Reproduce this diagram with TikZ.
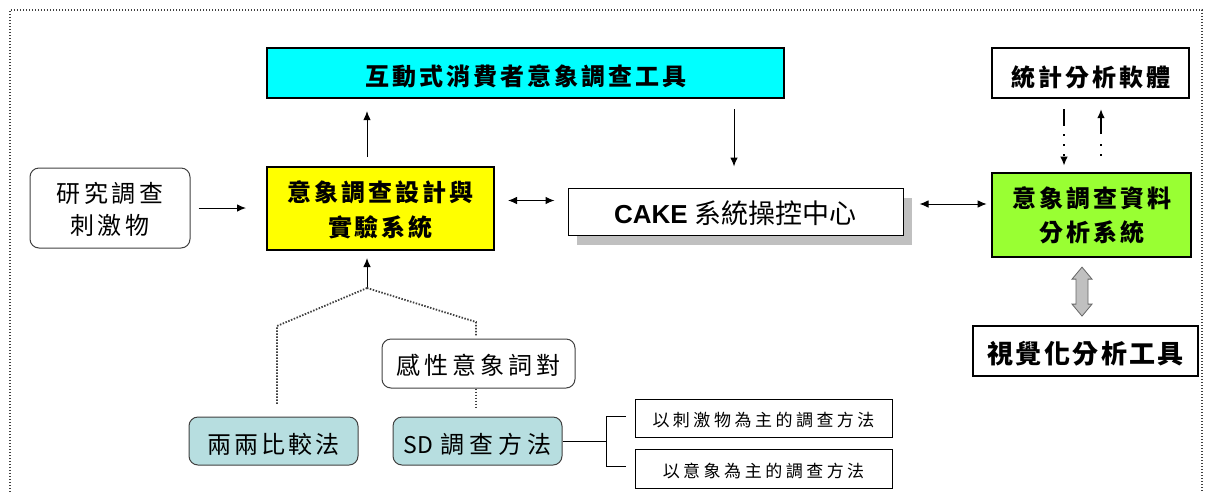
\documentclass[tikz,border=0pt]{standalone}
\usepackage{fontspec}
\setmainfont{Liberation Sans}
\newfontfamily\cjk{Noto Sans CJK TC}
\usetikzlibrary{arrows.meta,calc,shadows}
\makeatletter
\newcommand\spc[2]{\def\spc@sep{\hspace{#1}}\spc@first#2\relax}
\def\spc@first#1{#1\spc@go}
\def\spc@go#1{\ifx#1\relax\else\spc@sep#1\expandafter\spc@go\fi}
\makeatother
% shift content down visually without changing its size
\newcommand\dn[2]{\raisebox{-#1}[\height][\depth]{#2}}
\newcommand\twolines[2]{\begin{tabular}{@{}c@{}}#1\\#2\end{tabular}}
\definecolor{cyanc}{RGB}{0,255,255}
\definecolor{yellowc}{RGB}{255,255,0}
\definecolor{greenc}{RGB}{153,255,51}
\definecolor{tealc}{RGB}{183,222,224}
\definecolor{shadowc}{RGB}{192,192,192}
\begin{document}
\begin{tikzpicture}[x=1pt,y=-1pt,
  tip/.tip={Latex[length=9pt,width=7.5pt]},
  arr/.style={-tip, line width=1pt},
  darr/.style={tip-tip, line width=1pt},
  dotline/.style={line width=1.8pt, black!75, dash pattern=on 1.5pt off 1.5pt},
  sq/.style={draw, line width=2.2pt, inner sep=0pt, align=center,
    font=\cjk\bfseries\fontsize{24}{34}\selectfont},
  rnd/.style={draw=black!75, line width=1pt, rounded corners=9pt, inner sep=0pt, align=center,
    font=\cjk\fontsize{24}{31.5}\selectfont},
  thin/.style={draw, line width=1pt, inner sep=0pt, align=center,
    font=\cjk\fontsize{17}{18}\selectfont},
  gblock/.style={fill=shadowc, draw=black!60, line width=0.8pt, line join=miter}
]
\useasboundingbox (0,0) rectangle (1206,491);
% outer dotted frame
\draw[black!75, line width=1.2pt, dash pattern=on 1.2pt off 1.8pt] (10,495) -- (10,10) -- (1202,10) -- (1202,495);

% nodes
\node[sq, fill=cyanc, minimum width=517pt, minimum height=50pt] (cyan) at (525.5,73)
  {\dn{3.5pt}{\spc{3pt}{互動式消費者意象調查工具}}};
\node[sq, fill=white, minimum width=197pt, minimum height=50pt] (stat) at (1090.5,73)
  {\dn{4pt}{\spc{3pt}{統計分析軟體}}};
\node[sq, line width=2pt, fill=yellowc, minimum width=227pt, minimum height=83pt,
  font=\cjk\bfseries\fontsize{24}{35}\selectfont] (yellow) at (380.5,208.5)
  {\dn{3pt}{\twolines{\spc{3pt}{意象調查設計與}}{\spc{3pt}{實驗系統}}}};
\node[rnd, minimum width=160pt, minimum height=80pt] (stim) at (110,208)
  {\dn{4pt}{\twolines{\spc{3.5pt}{研究調查}}{\spc{3.5pt}{刺激物}}}};
\node[draw, line width=1pt, fill=white, inner sep=0pt, minimum width=335pt, minimum height=47pt,
  drop shadow={shadow xshift=9pt, shadow yshift=-10pt, opacity=1, fill=shadowc}] (cake) at (735.5,211.5)
  {\dn{2pt}{\fontsize{26}{30}\selectfont\bfseries CAKE\hspace{7pt}{\cjk\mdseries\fontsize{27}{30}\selectfont 系統操控中心}}};
\node[sq, line width=2.6pt, fill=greenc, minimum width=199pt, minimum height=84pt] (green) at (1091.5,215)
  {\dn{2.5pt}{\twolines{\spc{3pt}{意象調查資料}}{\spc{3pt}{分析系統}}}};
\node[sq, fill=white, minimum width=225pt, minimum height=50pt,
  font=\cjk\bfseries\fontsize{26}{30}\selectfont] (vis) at (1085.5,351)
  {\dn{2.5pt}{\spc{2.5pt}{視覺化分析工具}}};
\node[rnd, minimum width=193pt, minimum height=49pt] (kansei) at (478.5,363.5)
  {\dn{2pt}{\spc{4pt}{感性意象詞對}}};
\node[rnd, fill=tealc, minimum width=169pt, minimum height=48pt] (pair) at (273.5,441)
  {\dn{3pt}{\spc{3pt}{兩兩比較法}}};
\node[rnd, fill=tealc, minimum width=169pt, minimum height=48pt] (sd) at (477.5,441)
  {\dn{3pt}{{\fontsize{23}{28}\selectfont SD}\hspace{7pt}\spc{5pt}{調查方法}}};
\node[thin, minimum width=257pt, minimum height=38pt] (m1) at (763.5,418)
  {\dn{2pt}{\spc{3.5pt}{以刺激物為主的調查方法}}};
\node[thin, minimum width=257pt, minimum height=39pt] (m2) at (763.5,468.5)
  {\dn{2pt}{\spc{3.5pt}{以意象為主的調查方法}}};

% helper x positions
\coordinate (xa) at (367,0);
\coordinate (xb) at (734,0);
\coordinate (xd) at (1064,0);
\coordinate (xu) at (1101,0);

% arrows
\draw[arr, shorten <=9pt, shorten >=12pt] (yellow.north -| xa) -- (cyan.south -| xa);
\draw[arr, shorten <=10pt, shorten >=21pt] (cyan.south -| xb) -- (cake.north -| xb);
\draw[arr, shorten <=8pt, shorten >=20pt] (stim.east) -- (stim.east -| yellow.west);
\draw[darr, shorten <=13pt, shorten >=13pt] ([yshift=8pt]yellow.east) -- ([yshift=8pt]yellow.east -| cake.west);
\draw[darr, shorten <=16pt, shorten >=4pt] ([yshift=7.5pt]cake.east) -- ([yshift=7.5pt]cake.east -| green.west);

% stat <-> green
\coordinate (d1) at ($(stat.south -| xd)+(0,10)$);
\coordinate (d2) at ($(stat.south -| xd)+(0,25)$);
\draw[line width=1.4pt] (d1) -- (d2);
\draw[-tip, line width=1.5pt, dash pattern=on 1.5pt off 8.5pt, shorten >=6pt] (d2) -- (green.north -| xd);
\coordinate (u1) at ($(stat.south -| xu)+(0,35)$);
\draw[-tip, line width=1.4pt, shorten >=10pt] (u1) -- (stat.south -| xu);
\draw[line width=1.5pt, dash pattern=on 1.5pt off 8.5pt, shorten >=8pt] ($(u1)+(0,10)$) -- (green.north -| xu);

% gray block double arrow
\coordinate (ga) at ($(green.south)!0.5!(vis.north)+(-6.5,0)$);
\draw[gblock] ($(ga)+(0,-24.5)$) -- ++(10,12) -- ++(-4,0) -- ++(0,25) -- ++(4,0) -- ++(-10,12)
  -- ++(-10,-12) -- ++(4,0) -- ++(0,-25) -- ++(-4,0) -- cycle;

% dotted tree to yellow
\coordinate (j) at ($(yellow.south -| xa)+(0,37)$);
\draw[arr, shorten >=7pt] (j) -- (yellow.south -| xa);
\draw[dotline] (j) -- (277,326) -- ($(pair.north -| 277,0)+(0,-12)$);
\draw[dotline] (j) -- (476,322) -- ($(kansei.north -| 476,0)+(0,-2)$);
\draw[dotline] (kansei.south -| 476,0) -- ($(sd.north -| 476,0)+(0,-8)$);

% bracket
\coordinate (bx) at (606,0);
\draw[line width=1pt] (sd.east) -- (sd.east -| bx);
\draw[line width=1pt] ($(m1.west -| bx)+(0,-2)$) -- ($(m2.west -| bx)+(0,-2)$);
\draw[line width=1pt, shorten >=9pt] ($(m1.west -| bx)+(0,-2)$) -- ($(m1.west)+(0,-2)$);
\draw[line width=1pt, shorten >=9pt] ($(m2.west -| bx)+(0,-2)$) -- ($(m2.west)+(0,-2)$);
\end{tikzpicture}
\end{document}
